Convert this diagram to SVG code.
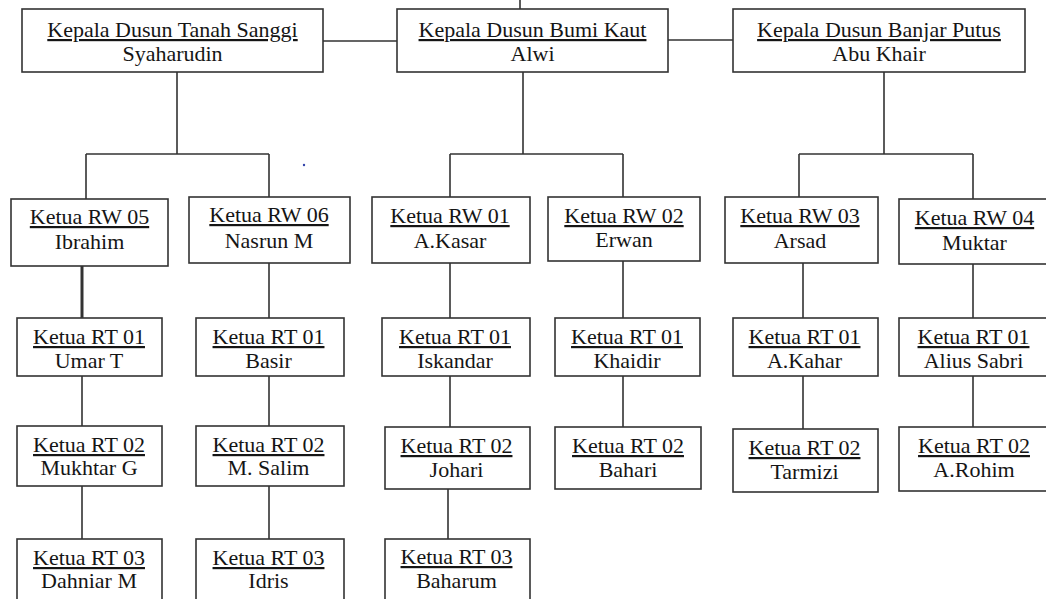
<svg xmlns="http://www.w3.org/2000/svg" width="1046" height="599" viewBox="0 0 1046 599">
<style>
.box{fill:#fff;stroke:#333;stroke-width:1.6}
.t{font-family:'Liberation Serif',serif;font-size:22px;fill:#151515;text-anchor:middle}
.u{text-decoration:underline}
.c{stroke:#333;stroke-width:1.6;fill:none}
.thick{stroke-width:3}
</style>
<rect width="1046" height="599" fill="#fff"/>
<g id="connectors">
<path class="c" d="M520 0V9M323 41H397M668 40H733"/>
<path class="c" d="M177 72V154M86 154H269M86 154V199M269 154V197"/>
<path class="c" d="M523 72V154M450 154H623M450 154V197M623 154V197"/>
<path class="c" d="M884 72V154M799 154H973M799 154V197M973 154V199"/>
<path class="c thick" d="M82 266V318"/>
<path class="c" d="M269 263V318M450 263V318M623 261V318M803 263V318M973 264V318"/>
<path class="c" d="M82 376V426M269 376V426M450 376V427M623 376V427M803 376V429M973 376V427"/>
<path class="c" d="M82 486V539M269 486V539M448 489V539"/>
</g>
<circle cx="304" cy="165" r="1.2" fill="#3344aa"/>
<g id="k1"><rect class="box" x="22" y="9" width="301" height="63"/><text class="t" x="172.5" y="37" style="font-family:'Liberation Serif'"><tspan class="u">Kepala Dusun Tanah Sanggi</tspan></text><text class="t" x="172.5" y="61">Syaharudin</text></g>
<g id="k2"><rect class="box" x="397" y="9" width="271" height="63"/><text class="t" x="532.5" y="37"><tspan class="u">Kepala Dusun Bumi Kaut</tspan></text><text class="t" x="532.5" y="61">Alwi</text></g>
<g id="k3"><rect class="box" x="733" y="9" width="292" height="63"/><text class="t" x="879" y="37"><tspan class="u">Kepala Dusun Banjar Putus</tspan></text><text class="t" x="879" y="61">Abu Khair</text></g>
<g id="rw05"><rect class="box" x="11" y="199" width="157" height="67"/><text class="t" x="89.5" y="224"><tspan class="u">Ketua RW 05</tspan></text><text class="t" x="89.5" y="249">Ibrahim</text></g>
<g id="rw06"><rect class="box" x="189" y="197" width="161" height="66"/><text class="t" x="269" y="222"><tspan class="u">Ketua RW 06</tspan></text><text class="t" x="269" y="248">Nasrun M</text></g>
<g id="rw01"><rect class="box" x="372" y="197" width="158" height="66"/><text class="t" x="450" y="223"><tspan class="u">Ketua RW 01</tspan></text><text class="t" x="450" y="248">A.Kasar</text></g>
<g id="rw02"><rect class="box" x="548" y="197" width="152" height="64"/><text class="t" x="624" y="223"><tspan class="u">Ketua RW 02</tspan></text><text class="t" x="624" y="247">Erwan</text></g>
<g id="rw03"><rect class="box" x="725" y="197" width="153" height="66"/><text class="t" x="800" y="223"><tspan class="u">Ketua RW 03</tspan></text><text class="t" x="800" y="248">Arsad</text></g>
<g id="rw04"><rect class="box" x="899" y="199" width="151" height="65"/><text class="t" x="974.5" y="225"><tspan class="u">Ketua RW 04</tspan></text><text class="t" x="974.5" y="250">Muktar</text></g>
<g id="rt-umar"><rect class="box" x="17" y="318" width="145" height="58"/><text class="t" x="89" y="344"><tspan class="u">Ketua RT 01</tspan></text><text class="t" x="89" y="368">Umar T</text></g>
<g id="rt-basir"><rect class="box" x="196" y="318" width="148" height="58"/><text class="t" x="268.5" y="344"><tspan class="u">Ketua RT 01</tspan></text><text class="t" x="268.5" y="368">Basir</text></g>
<g id="rt-iskandar"><rect class="box" x="382" y="318" width="148" height="58"/><text class="t" x="455" y="344"><tspan class="u">Ketua RT 01</tspan></text><text class="t" x="455" y="368">Iskandar</text></g>
<g id="rt-khaidir"><rect class="box" x="555" y="318" width="145" height="58"/><text class="t" x="627" y="344"><tspan class="u">Ketua RT 01</tspan></text><text class="t" x="627" y="368">Khaidir</text></g>
<g id="rt-akahar"><rect class="box" x="733" y="318" width="145" height="58"/><text class="t" x="804.5" y="344"><tspan class="u">Ketua RT 01</tspan></text><text class="t" x="804.5" y="368">A.Kahar</text></g>
<g id="rt-alius"><rect class="box" x="899" y="318" width="150" height="58"/><text class="t" x="973.5" y="344"><tspan class="u">Ketua RT 01</tspan></text><text class="t" x="973.5" y="368">Alius Sabri</text></g>
<g id="rt-mukhtar"><rect class="box" x="17" y="426" width="145" height="60"/><text class="t" x="89" y="452"><tspan class="u">Ketua RT 02</tspan></text><text class="t" x="89" y="475">Mukhtar G</text></g>
<g id="rt-msalim"><rect class="box" x="196" y="426" width="148" height="60"/><text class="t" x="268.5" y="452"><tspan class="u">Ketua RT 02</tspan></text><text class="t" x="268.5" y="475">M. Salim</text></g>
<g id="rt-johari"><rect class="box" x="385" y="427" width="145" height="62"/><text class="t" x="456.5" y="453"><tspan class="u">Ketua RT 02</tspan></text><text class="t" x="456.5" y="477">Johari</text></g>
<g id="rt-bahari"><rect class="box" x="555" y="427" width="146" height="62"/><text class="t" x="628" y="453"><tspan class="u">Ketua RT 02</tspan></text><text class="t" x="628" y="477">Bahari</text></g>
<g id="rt-tarmizi"><rect class="box" x="733" y="429" width="145" height="63"/><text class="t" x="804.5" y="455"><tspan class="u">Ketua RT 02</tspan></text><text class="t" x="804.5" y="479">Tarmizi</text></g>
<g id="rt-arohim"><rect class="box" x="899" y="427" width="150" height="64"/><text class="t" x="974" y="453"><tspan class="u">Ketua RT 02</tspan></text><text class="t" x="974" y="477">A.Rohim</text></g>
<g id="rt-dahniar"><rect class="box" x="17" y="539" width="145" height="80"/><text class="t" x="89" y="565"><tspan class="u">Ketua RT 03</tspan></text><text class="t" x="89" y="588">Dahniar M</text></g>
<g id="rt-idris"><rect class="box" x="196" y="539" width="148" height="80"/><text class="t" x="268.5" y="565"><tspan class="u">Ketua RT 03</tspan></text><text class="t" x="268.5" y="588">Idris</text></g>
<g id="rt-baharum"><rect class="box" x="385" y="539" width="145" height="80"/><text class="t" x="456.5" y="564"><tspan class="u">Ketua RT 03</tspan></text><text class="t" x="456.5" y="588">Baharum</text></g>
</svg>
